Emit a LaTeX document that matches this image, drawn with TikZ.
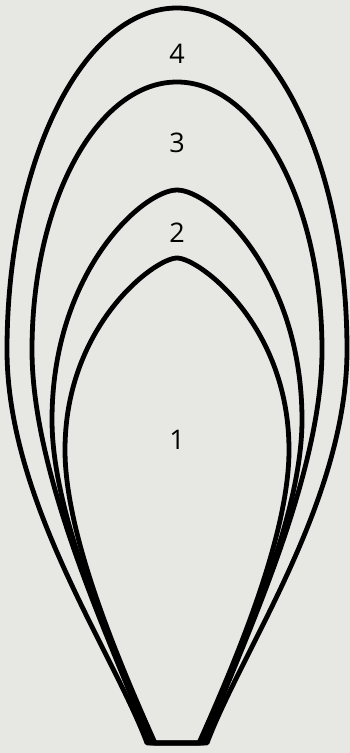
\documentclass[tikz,border=0pt]{standalone}
\usepackage{fontspec}
\setmainfont{Open Sans}
\definecolor{bg}{RGB}{231,231,228}
\tikzset{
  petal/.style={draw=black, line width=4.8pt, line join=round},
  lbl/.style={font=\fontsize{27}{30}\selectfont, text=black, inner sep=0pt}
}
\begin{document}
\begin{tikzpicture}[x=1pt,y=-1pt]
\fill[bg] (0,0) rectangle (350,753);
\useasboundingbox (0,0) rectangle (350,753);
% curve 4 (outer)
\draw[petal] (147,743) .. controls (112,650) and (7,500) .. (7,350)
  .. controls (7,161) and (83,8) .. (177,8)
  .. controls (271,8) and (347,161) .. (347,350)
  .. controls (347,500) and (242,650) .. (207,743) -- cycle;
% curve 3
\draw[petal] (150,743) .. controls (115,650) and (32,480) .. (32,350)
  .. controls (32,202) and (97,82) .. (177,82)
  .. controls (257,82) and (322,202) .. (322,350)
  .. controls (322,480) and (239,650) .. (204,743) -- cycle;
% curve 2
\draw[petal] (153,743) .. controls (118,660) and (52,520) .. (52,420)
  .. controls (52,272) and (143,190) .. (177,190)
  .. controls (211,190) and (302,272) .. (302,420)
  .. controls (302,520) and (236,660) .. (201,743) -- cycle;
% curve 1 (inner)
\draw[petal] (155,743) .. controls (118,660) and (65,535) .. (65,450)
  .. controls (65,325) and (155,258) .. (177,258)
  .. controls (199,258) and (289,325) .. (289,450)
  .. controls (289,535) and (236,660) .. (199,743) -- cycle;
\node[lbl] (l4) at (177,54) {4};
\node[lbl] (l3) at (177,143) {3};
\node[lbl] (l2) at (177,233) {2};
\node[lbl] (l1) at (177,440) {1};
\end{tikzpicture}
\end{document}
